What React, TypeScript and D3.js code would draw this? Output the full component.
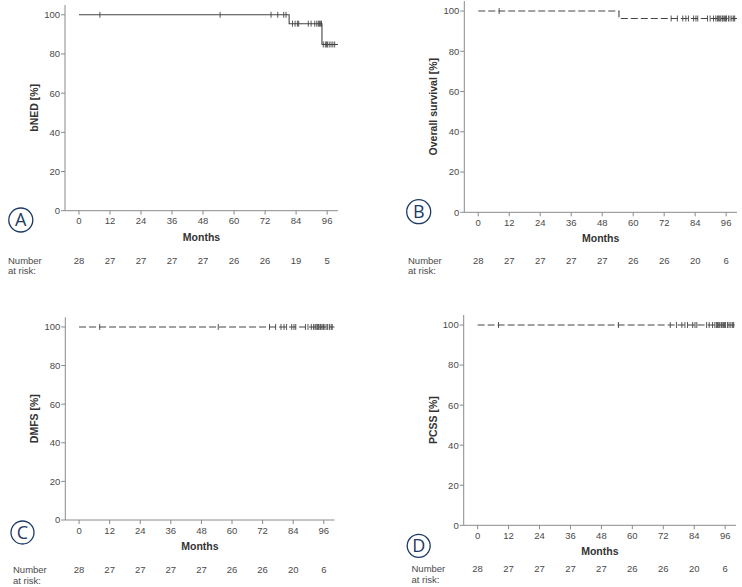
import React from "react";
import * as d3 from "d3";

// ---------------- data ----------------
const N_PATIENTS = 28;
const xTicks = [0, 12, 24, 36, 48, 60, 72, 84, 96];
const yTicks = [0, 20, 40, 60, 80, 100];
const riskTimes = [0, 12, 24, 36, 48, 60, 72, 84, 96];

const riskA = [28, 27, 27, 27, 27, 26, 26, 19, 5];
const riskB = [28, 27, 27, 27, 27, 26, 26, 20, 6];
const riskC = [28, 27, 27, 27, 27, 26, 26, 20, 6];
const riskD = [28, 27, 27, 27, 27, 26, 26, 20, 6];

const eventsA = [81.3, 94.0];
const censoredA = [8.1, 54.6, 74.3, 76.9, 79.2, 80.1, 82.6, 83.6, 84.5, 85.0, 88.7, 89.8, 91.2, 92.0, 92.6, 93.0, 93.5, 93.8, 94.5, 95.3, 95.8, 96.1, 96.8, 97.5, 98.2, 98.9];

const eventsB = [54.5];
const censoredB = [8.1, 74.7, 77.1, 79.2, 80.4, 81.4, 83.4, 84.3, 85.0, 88.8, 89.8, 91.1, 92.0, 92.6, 93.0, 93.5, 93.9, 94.5, 94.8, 95.3, 95.8, 96.1, 96.9, 97.5, 98.2, 98.9, 99.3];

const eventsC: number[] = [];
const censoredC = [8.1, 54.6, 74.7, 77.1, 79.2, 80.4, 81.4, 83.4, 84.3, 85.0, 88.8, 89.8, 91.1, 92.0, 92.6, 93.0, 93.5, 93.9, 94.5, 94.8, 95.3, 95.8, 96.1, 96.9, 97.5, 98.2, 98.9, 99.3];

const eventsD: number[] = [];
const censoredD = [8.1, 54.6, 74.7, 77.1, 79.2, 80.4, 81.4, 83.4, 84.3, 85.0, 88.8, 89.8, 91.1, 92.0, 92.6, 93.0, 93.5, 93.9, 94.5, 94.8, 95.3, 95.8, 96.1, 96.9, 97.5, 98.2, 98.9, 99.3];

const followUpEnd = 100.2;

// ---------------- helpers ----------------
function kaplanMeier(events: number[], censored: number[], n: number) {
  const times = Array.from(new Set([...events, ...censored])).sort((a, b) => a - b);
  let s = 100;
  const steps: { t: number; s: number }[] = [{ t: 0, s }];
  const censorPts: { t: number; s: number }[] = [];
  const all = [...events, ...censored];
  for (const t of times) {
    const atRisk = all.filter((v) => v >= t).length;
    const d = events.filter((v) => v === t).length;
    if (d > 0) {
      s = s * (1 - d / atRisk);
      steps.push({ t, s });
    }
    const c = censored.filter((v) => v === t).length;
    for (let i = 0; i < c; i++) censorPts.push({ t, s });
  }
  return { steps, censorPts, n };
}

const FONT = "'Liberation Sans', Arial, sans-serif";
const AXIS_COLOR = "#8a8a8a";
const TEXT_COLOR = "#4a4a4a";
const LINE_COLOR = "#444";
const NAVY = "#1d3a66";

type PanelProps = {
  left: number; right: number; top: number; bottom: number;
  ylabel: string; letter: string; cx: number; cy: number; cr: number;
  events: number[]; censored: number[]; risk: number[];
  dashed: boolean; numX: number; numY: number;
};

function Panel(p: PanelProps) {
  const x = d3.scaleLinear().domain([-5.4, 100.2]).range([p.left, p.right]);
  const y = d3.scaleLinear().domain([0, 105]).range([p.bottom, p.top]);
  const km = kaplanMeier(p.events, p.censored, N_PATIENTS);
  const pts: [number, number][] = km.steps.map((d) => [d.t, d.s]);
  pts.push([followUpEnd, km.steps[km.steps.length - 1].s]);
  const line = d3.line<[number, number]>().x((d) => x(d[0])).y((d) => y(d[1])).curve(d3.curveStepAfter);
  const midY = (p.top + p.bottom) / 2;
  const midX = (p.left + p.right) / 2;
  return (
    <g>
      {/* axes */}
      <line x1={p.left} x2={p.left} y1={p.top} y2={p.bottom} stroke={AXIS_COLOR} strokeWidth={1} />
      <line x1={p.left} x2={p.right} y1={p.bottom} y2={p.bottom} stroke={AXIS_COLOR} strokeWidth={1} />
      {yTicks.map((t) => (
        <g key={"y" + t}>
          <line x1={p.left - 4} x2={p.left} y1={y(t)} y2={y(t)} stroke={AXIS_COLOR} />
          <text x={p.left - 5} y={y(t) + 3.4} textAnchor="end" fontSize={9.5} fill={TEXT_COLOR} fontFamily={FONT}>{t}</text>
        </g>
      ))}
      {xTicks.map((t) => (
        <g key={"x" + t}>
          <line x1={x(t)} x2={x(t)} y1={p.bottom} y2={p.bottom + 4} stroke={AXIS_COLOR} />
          <text x={x(t)} y={p.bottom + 13.6} textAnchor="middle" fontSize={9.5} fill={TEXT_COLOR} fontFamily={FONT}>{t}</text>
        </g>
      ))}
      <text x={midX} y={p.bottom + 30} textAnchor="middle" fontSize={10.5} fontWeight="bold" fill="#333" fontFamily={FONT}>Months</text>
      <text transform={`translate(${p.left - 27},${midY}) rotate(-90)`} textAnchor="middle" fontSize={10.5} fontWeight="bold" fill="#333" fontFamily={FONT}>{p.ylabel}</text>
      {/* curve */}
      <path d={line(pts) || ""} fill="none" stroke={LINE_COLOR} strokeWidth={1.1} strokeDasharray={p.dashed ? "7,3" : undefined} />
      {km.censorPts.map((c, i) => (
        <line key={"c" + i} x1={x(c.t)} x2={x(c.t)} y1={y(c.s) - 3} y2={y(c.s) + 3} stroke={LINE_COLOR} strokeWidth={0.9} />
      ))}
      {/* letter */}
      <circle cx={p.cx} cy={p.cy} r={p.cr} fill="none" stroke={NAVY} strokeWidth={1.3} />
      <text x={p.cx} y={p.cy + 6.3} textAnchor="middle" fontSize={18} fill={NAVY} fontFamily="'Open Sans', 'Noto Sans', sans-serif">{p.letter}</text>
      {/* number at risk */}
      <text x={p.numX} y={p.numY} fontSize={9.5} fill={TEXT_COLOR} fontFamily={FONT}>Number</text>
      <text x={p.numX} y={p.numY + 10.8} fontSize={9.5} fill={TEXT_COLOR} fontFamily={FONT}>at risk:</text>
      {p.risk.map((r, i) => (
        <text key={"r" + i} x={x(riskTimes[i])} y={p.numY} textAnchor="middle" fontSize={9.5} fill={TEXT_COLOR} fontFamily={FONT}>{r}</text>
      ))}
    </g>
  );
}

export default function App() {
  return (
    <svg width={742} height={587} style={{ position: "absolute", left: 0, top: 0, display: "block", background: "#fff" }}>
      <rect x={0} y={0} width={742} height={587} fill="#fff" />
      <Panel left={65} right={338} top={5} bottom={210.7} ylabel="bNED [%]" letter="A" cx={20.8} cy={220} cr={12}
        events={eventsA} censored={censoredA} risk={riskA} dashed={false} numX={8} numY={263.5} />
      <Panel left={464.3} right={737} top={1} bottom={212.3} ylabel="Overall survival [%]" letter="B" cx={418.7} cy={211.7} cr={12}
        events={eventsB} censored={censoredB} risk={riskB} dashed={true} numX={408} numY={263.5} />
      <Panel left={65.3} right={334.5} top={317.3} bottom={520} ylabel="DMFS [%]" letter="C" cx={22.5} cy={532.5} cr={11.5}
        events={eventsC} censored={censoredC} risk={riskC} dashed={true} numX={13} numY={572.7} />
      <Panel left={463.7} right={736} top={315} bottom={525.3} ylabel="PCSS [%]" letter="D" cx={418.7} cy={545.8} cr={11.5}
        events={eventsD} censored={censoredD} risk={riskD} dashed={true} numX={411.5} numY={572.2} />
    </svg>
  );
}
